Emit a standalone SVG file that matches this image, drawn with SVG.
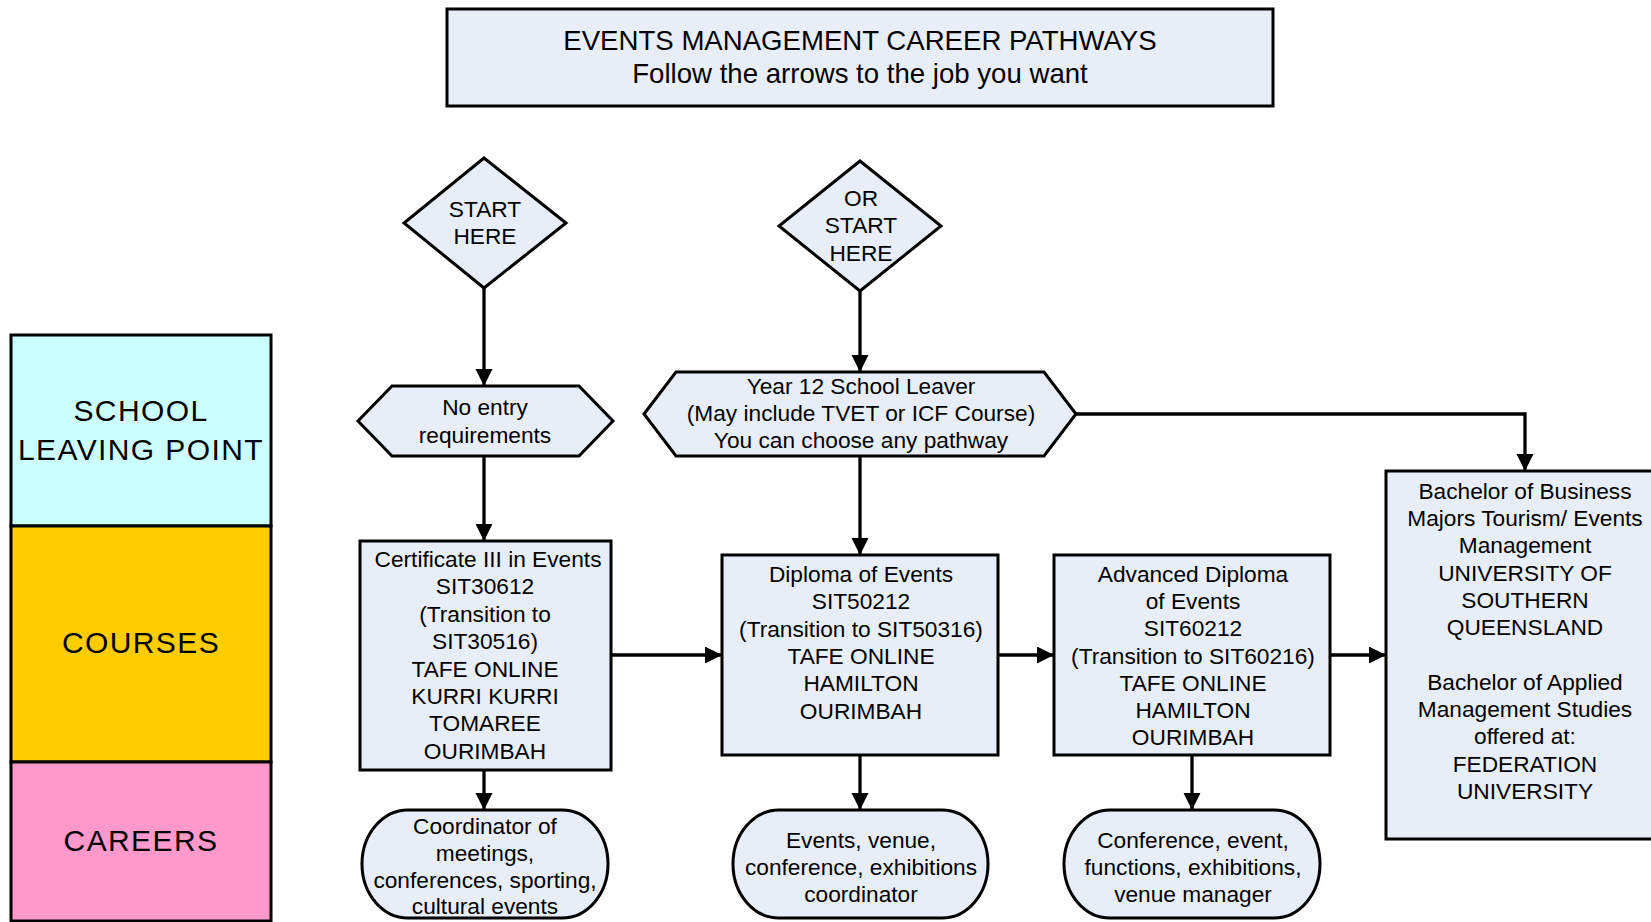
<svg xmlns="http://www.w3.org/2000/svg" width="1651" height="922" viewBox="0 0 1651 922">
<style>
.n{fill:#E8EEF7;stroke:#000;stroke-width:3}
.t{font-family:"Liberation Sans",Arial,sans-serif;font-size:22.7px;fill:#000;text-anchor:middle}
.tt{font-family:"Liberation Sans",Arial,sans-serif;font-size:27.6px;fill:#000;text-anchor:middle}
.ln{font-family:"Liberation Sans",Arial,sans-serif;font-size:30px;letter-spacing:1.4px;fill:#000;text-anchor:middle}
.lane{stroke:#000;stroke-width:3}
.c{fill:none;stroke:#000;stroke-width:3.3;marker-end:url(#ah)}
</style>
<defs>
<marker id="ah" markerUnits="userSpaceOnUse" markerWidth="18" markerHeight="18" refX="17" refY="8.5" orient="auto">
<path d="M0,0 L17,8.5 L0,17 z" fill="#000"/>
</marker>
</defs>
<rect width="1651" height="922" fill="#fff"/>

<g id="title">
<rect class="n" x="447" y="9" width="826" height="97"/>
<text class="tt" x="860" y="49.5">EVENTS MANAGEMENT CAREER PATHWAYS</text>
<text class="tt" x="860" y="83">Follow the arrows to the job you want</text>
</g>

<g id="lane-school">
<rect class="lane" x="11" y="335" width="260" height="191" fill="#CCFFFF"/>
<text class="ln" x="141" y="421">SCHOOL</text>
<text class="ln" x="141" y="460">LEAVING POINT</text>
</g>
<g id="lane-courses">
<rect class="lane" x="11" y="526" width="260" height="236" fill="#FFCC00"/>
<text class="ln" x="141" y="653">COURSES</text>
</g>
<g id="lane-careers">
<rect class="lane" x="11" y="762" width="260" height="159" fill="#FF99CC"/>
<text class="ln" x="141" y="851">CAREERS</text>
</g>

<g id="start1">
<polygon class="n" points="484,158 566,223 484,288 404,223"/>
<text class="t" x="485" y="216.5">START</text>
<text class="t" x="485" y="244">HERE</text>
</g>

<g id="start2">
<polygon class="n" points="860,161 941,226 860,291 779,226"/>
<text class="t" x="861" y="206">OR</text>
<text class="t" x="861" y="233">START</text>
<text class="t" x="861" y="261">HERE</text>
</g>

<g id="noentry">
<polygon class="n" points="358,421 392,386 579,386 613,421 579,456 392,456"/>
<text class="t" x="485" y="415">No entry</text>
<text class="t" x="485" y="442.5">requirements</text>
</g>

<g id="year12">
<polygon class="n" points="644,414 676,372 1044,372 1076,414 1044,456 676,456"/>
<text class="t" x="861" y="393.5">Year 12 School Leaver</text>
<text class="t" x="861" y="421">(May include TVET or ICF Course)</text>
<text class="t" x="861" y="448">You can choose any pathway</text>
</g>

<g id="cert3">
<rect class="n" x="360" y="541" width="251" height="229"/>
<text class="t" x="488" y="567">Certificate III in Events</text>
<text class="t" x="485" y="594.4">SIT30612</text>
<text class="t" x="485" y="621.8">(Transition to</text>
<text class="t" x="485" y="649.2">SIT30516)</text>
<text class="t" x="485" y="676.6">TAFE ONLINE</text>
<text class="t" x="485" y="704">KURRI KURRI</text>
<text class="t" x="485" y="731.4">TOMAREE</text>
<text class="t" x="485" y="758.8">OURIMBAH</text>
</g>

<g id="diploma">
<rect class="n" x="722" y="555" width="276" height="200"/>
<text class="t" x="861" y="582">Diploma of Events</text>
<text class="t" x="861" y="609.3">SIT50212</text>
<text class="t" x="861" y="636.6">(Transition to SIT50316)</text>
<text class="t" x="861" y="663.9">TAFE ONLINE</text>
<text class="t" x="861" y="691.2">HAMILTON</text>
<text class="t" x="861" y="718.5">OURIMBAH</text>
</g>

<g id="advdiploma">
<rect class="n" x="1054" y="555" width="276" height="200"/>
<text class="t" x="1193" y="582">Advanced Diploma</text>
<text class="t" x="1193" y="609.2">of Events</text>
<text class="t" x="1193" y="636.4">SIT60212</text>
<text class="t" x="1193" y="663.6">(Transition to SIT60216)</text>
<text class="t" x="1193" y="690.8">TAFE ONLINE</text>
<text class="t" x="1193" y="718">HAMILTON</text>
<text class="t" x="1193" y="745.2">OURIMBAH</text>
</g>

<g id="bachelor">
<rect class="n" x="1386" y="471" width="280" height="368"/>
<text class="t" x="1525" y="498.6">Bachelor of Business</text>
<text class="t" x="1525" y="525.9">Majors Tourism/ Events</text>
<text class="t" x="1525" y="553.2">Management</text>
<text class="t" x="1525" y="580.5">UNIVERSITY OF</text>
<text class="t" x="1525" y="607.8">SOUTHERN</text>
<text class="t" x="1525" y="635.1">QUEENSLAND</text>
<text class="t" x="1525" y="689.7">Bachelor of Applied</text>
<text class="t" x="1525" y="717">Management Studies</text>
<text class="t" x="1525" y="744.3">offered at:</text>
<text class="t" x="1525" y="771.6">FEDERATION</text>
<text class="t" x="1525" y="798.9">UNIVERSITY</text>
</g>

<g id="career1">
<rect class="n" x="362" y="810" width="246" height="108" rx="46" ry="54"/>
<text class="t" x="485" y="833.5">Coordinator of</text>
<text class="t" x="485" y="860.5">meetings,</text>
<text class="t" x="485" y="887.5">conferences, sporting,</text>
<text class="t" x="485" y="914">cultural events</text>
</g>

<g id="career2">
<rect class="n" x="733" y="810" width="255" height="108" rx="46" ry="54"/>
<text class="t" x="861" y="848">Events, venue,</text>
<text class="t" x="861" y="875">conference, exhibitions</text>
<text class="t" x="861" y="902">coordinator</text>
</g>

<g id="career3">
<rect class="n" x="1064" y="810" width="256" height="108" rx="46" ry="54"/>
<text class="t" x="1193" y="848">Conference, event,</text>
<text class="t" x="1193" y="875">functions, exhibitions,</text>
<text class="t" x="1193" y="902">venue manager</text>
</g>

<g id="connectors">
<path class="c" d="M484,288 L484,386"/>
<path class="c" d="M860,291 L860,372"/>
<path class="c" d="M484,456 L484,541"/>
<path class="c" d="M860,456 L860,555"/>
<path class="c" d="M1076,414 L1525,414 L1525,471"/>
<path class="c" d="M611,655 L722,655"/>
<path class="c" d="M998,655 L1054,655"/>
<path class="c" d="M1330,655 L1386,655"/>
<path class="c" d="M484,770 L484,810"/>
<path class="c" d="M860,755 L860,810"/>
<path class="c" d="M1192,755 L1192,810"/>
</g>
</svg>
